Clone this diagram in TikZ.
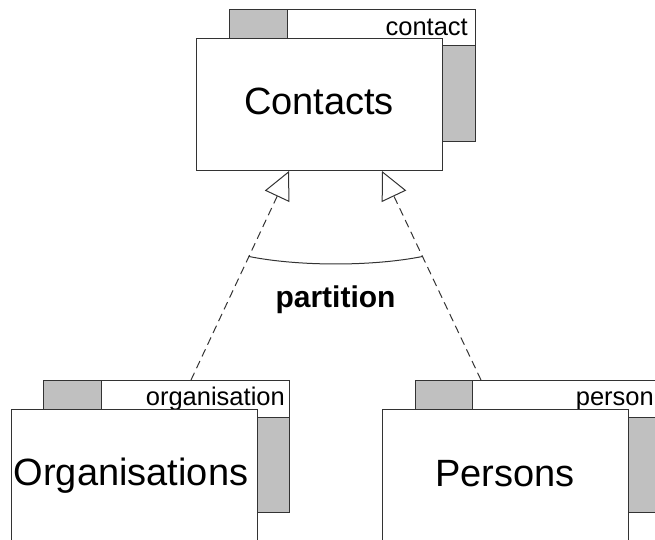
\documentclass[tikz,border=0pt]{standalone}
\usepackage{fontspec}
\setmainfont{Liberation Sans}
\usetikzlibrary{arrows.meta,calc}
\definecolor{edge}{HTML}{333333}
\definecolor{tabgrey}{HTML}{C0C0C0}
\tikzset{
  box/.style={draw=edge, line width=1pt, fill=white, minimum width=246pt, minimum height=132pt, inner sep=0pt, outer sep=0pt, anchor=north west},
  greybox/.style={draw=edge, line width=1pt, fill=tabgrey},
  headline/.style={draw=edge, line width=1pt},
  bigtext/.style={font=\fontsize{38}{41}\selectfont, anchor=base, inner sep=0pt},
  smalltext/.style={font=\fontsize{25.5}{28}\selectfont, anchor=base east, inner sep=0pt},
  gen/.style={draw=edge, line width=1pt, dash pattern=on 8pt off 5pt, -{Triangle[open,length=28pt,width=27pt]}},
  arcline/.style={draw=edge, line width=1pt},
  parttext/.style={font=\bfseries\fontsize{30}{33}\selectfont, anchor=base, inner sep=0pt},
}
\begin{document}
\begin{tikzpicture}[x=1pt,y=-1pt]
\useasboundingbox (0,0) rectangle (655,540);
\clip (0,0) rectangle (655,540);

% Contacts package
\node[box] (cback) at (229,10) {};
\draw[greybox] (cback.north west) rectangle (287,39);
\draw[greybox] (442,46) rectangle (cback.south east);
\draw[headline] (442,46) -- (cback.east |- 0,46);
\node[smalltext] (ctitle) at (468,36) {contact};
\node[box] (contacts) at (196,39) {};
\node[bigtext] (contactslbl) at (319,115) {Contacts};

% Organisations package
\node[box] (oback) at (43,380) {};
\draw[greybox] (oback.north west) rectangle (101,409);
\draw[greybox] (257,417) rectangle (oback.south east);
\node[smalltext] (otitle) at (285,405) {organisation};
\node[box] (orgs) at (11,409) {};
\node[bigtext] (orgslbl) at (131,485) {Organisations};

% Persons package
\node[box] (pback) at (415,380) {};
\draw[greybox] (pback.north west) rectangle (472,409);
\draw[greybox] (628,417) rectangle (pback.south east);
\node[smalltext] (ptitle) at (654,405) {person};
\node[box] (persons) at (382,409) {};
\node[bigtext] (personslbl) at (505,486) {Persons};

% generalisation connectors
\coordinate (otop) at ([xshift=148pt]oback.north west);
\coordinate (ptop) at ([xshift=66pt]pback.north west);
\coordinate (ctipl) at ([xshift=93pt]contacts.south west);
\coordinate (ctipr) at ([xshift=186pt]contacts.south west);
\draw[gen] (otop) -- (ctipl);
\draw[gen] (ptop) -- (ctipr);

% partition arc
\coordinate (a1) at ($(otop)!0.591!(ctipl)$);
\coordinate (a2) at ($(ptop)!0.591!(ctipr)$);
\draw[arcline] (a1) .. controls +(50,10) and +(-50,10) .. (a2);
\node[parttext] (partlbl) at (335.5,307) {partition};
\end{tikzpicture}
\end{document}
